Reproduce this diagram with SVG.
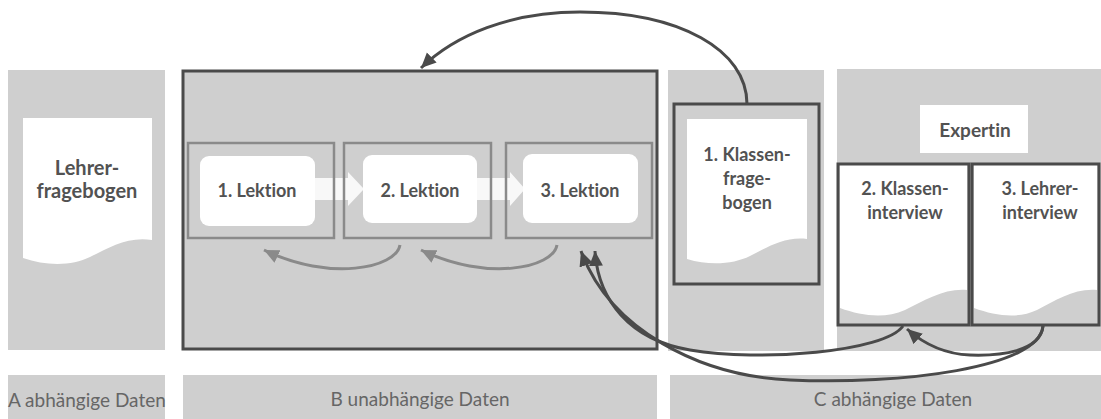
<svg xmlns="http://www.w3.org/2000/svg" width="1101" height="419" viewBox="0 0 1101 419">
  <style>
    .panel { fill: #cfcfcf; }
    .doc { fill: #ffffff; }
    .frame { fill: none; stroke: #4a4a4a; stroke-width: 3; }
    .lek-frame { fill: none; stroke: #8a8a8a; stroke-width: 2.5; }
    .lek { fill: #ffffff; }
    .t { font-family: Lato, "Liberation Sans", sans-serif; font-weight: bold; font-size: 18px; fill: #525252; text-anchor: middle; font-variant-ligatures: none; }
    .big { font-size: 20px; }
    .lbl { font-family: Lato, "Liberation Sans", sans-serif; font-size: 19px; fill: #666666; font-variant-ligatures: none; }
    .dark { fill: none; stroke: #4a4a4a; stroke-width: 3; }
    .grey { fill: none; stroke: #8a8a8a; stroke-width: 3; }
    .chev { fill: #ffffff; opacity: 0.85; }
  </style>
  <defs>
    <marker id="ahDark" markerUnits="userSpaceOnUse" markerWidth="18" markerHeight="16" refX="15" refY="7" orient="auto">
      <path d="M0,0 L15,7 L0,14 Z" fill="#4a4a4a"/>
    </marker>
    <marker id="ahGrey" markerUnits="userSpaceOnUse" markerWidth="18" markerHeight="16" refX="15" refY="7" orient="auto">
      <path d="M0,0 L15,7 L0,14 Z" fill="#8a8a8a"/>
    </marker>
  </defs>

  <!-- background panels -->
  <g id="panels">
    <rect class="panel" x="8" y="70" width="157" height="280"/>
    <rect class="panel" x="668" y="70" width="156" height="281"/>
    <rect class="panel" x="837" y="69" width="264" height="282"/>
    <rect class="panel" x="8" y="375" width="157" height="44"/>
    <rect class="panel" x="183" y="375" width="474" height="44"/>
    <rect class="panel" x="670" y="375" width="431" height="44"/>
  </g>

  <g id="lehrerfragebogen">
    <path class="doc" d="M23,118 H152 V240 C128,236 108,248 90,257 C72,266 46,266 23,258 Z"/>
    <text class="t big" x="87" y="175">Lehrer-</text>
    <text class="t big" x="87" y="198">fragebogen</text>
  </g>

  <g id="unabhaengig">
    <rect class="panel" x="183" y="71" width="474" height="278"/>
    <rect class="frame" x="183" y="71" width="474" height="278"/>
  </g>

  <g id="chevrons">
    <path class="chev" d="M315,178 H348 V172 L364,189 L348,206 V200 H315 Z"/>
    <path class="chev" d="M477,178 H510 V172 L525,189 L510,206 V200 H477 Z"/>
  </g>

  <g id="lektion1">
    <rect class="lek-frame" x="188" y="143" width="146" height="95"/>
    <rect class="lek" x="200" y="156" width="115" height="70" rx="9"/>
    <text class="t" x="257" y="197">1. Lektion</text>
  </g>
  <g id="lektion2">
    <rect class="lek-frame" x="344" y="143" width="147" height="95"/>
    <rect class="lek" x="363" y="155" width="114" height="68" rx="9"/>
    <text class="t" x="420" y="197">2. Lektion</text>
  </g>
  <g id="lektion3">
    <rect class="lek-frame" x="506" y="143" width="146" height="95"/>
    <rect class="lek" x="523" y="154" width="115" height="69" rx="9"/>
    <text class="t" x="580" y="197">3. Lektion</text>
  </g>

  <g id="klassenfragebogen">
    <path class="doc" d="M687,119 H807 V239 C785,236 766,248 750,256 C734,264 710,266 687,259 Z"/>
    <rect class="frame" x="674" y="104" width="145" height="180"/>
    <text class="t" x="747" y="161">1. Klassen-</text>
    <text class="t" x="747" y="185">frage-</text>
    <text class="t" x="747" y="209">bogen</text>
  </g>

  <g id="expertin">
    <rect class="doc" x="920" y="105" width="108" height="48"/>
    <text class="t" x="975" y="137" style="font-size:19px">Expertin</text>
  </g>

  <g id="klasseninterview">
    <path class="doc" d="M840,165 H967 V290 C945,288 925,300 905,310 C885,319 862,316 840,308 Z"/>
    <rect class="frame" x="838" y="164" width="131" height="161"/>
    <text class="t" x="905" y="195">2. Klassen-</text>
    <text class="t" x="905" y="219">interview</text>
  </g>

  <g id="lehrerinterview">
    <path class="doc" d="M974,165 H1097 V290 C1075,288 1056,300 1037,310 C1018,319 996,316 974,308 Z"/>
    <rect class="frame" x="972" y="164" width="127" height="161"/>
    <text class="t" x="1040" y="195">3. Lehrer-</text>
    <text class="t" x="1040" y="219">interview</text>
  </g>

  <g id="labels">
    <text class="lbl" x="8" y="407">A abhängige Daten</text>
    <text class="lbl" x="420" y="406" text-anchor="middle">B unabhängige Daten</text>
    <text class="lbl" x="893" y="406" text-anchor="middle">C abhängige Daten</text>
  </g>

  <g id="connectors">
    <path class="grey" d="M400,245 C396,268 330,282 264,250" marker-end="url(#ahGrey)"/>
    <path class="grey" d="M557,245 C553,268 487,282 421,250" marker-end="url(#ahGrey)"/>
    <path class="dark" d="M747,104 C747,50 680,12 580,12 C510,12 455,35 421,68" marker-end="url(#ahDark)"/>
    <path class="dark" d="M903,326 C885,352 760,362 690,350 C630,340 598,300 595,251" marker-end="url(#ahDark)"/>
    <path class="dark" d="M1043,326 C1040,368 900,385 790,380 C700,376 610,330 581,251" marker-end="url(#ahDark)"/>
    <path class="dark" d="M1043,326 C1040,352 1000,356 970,355 C945,354 925,345 907,329" marker-end="url(#ahDark)"/>
  </g>
</svg>
